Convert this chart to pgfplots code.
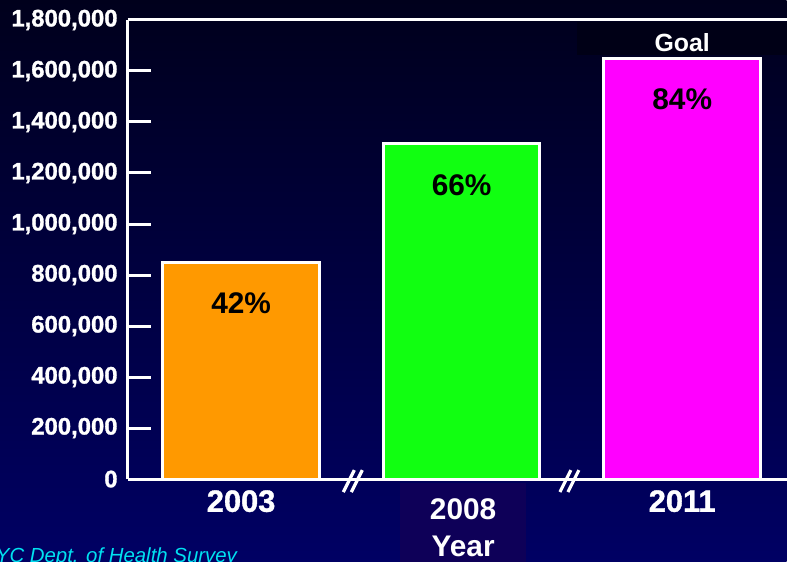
\documentclass[border=0pt]{standalone}
\usepackage{pgfplots}
\pgfplotsset{compat=1.18}
\usepackage{fontspec}
\setmainfont{Liberation Sans}
\newfontface\heavy{Liberation Sans Bold}[FakeBold=1.2]
\definecolor{bgtop}{RGB}{0,0,28}
\definecolor{bgbot}{RGB}{0,0,100}
\definecolor{barorange}{RGB}{255,153,0}
\definecolor{bargreen}{RGB}{17,255,17}
\definecolor{barmagenta}{RGB}{255,0,255}
\definecolor{labelbox}{RGB}{14,0,88}
\definecolor{goalbox}{RGB}{0,0,22}
\definecolor{source}{RGB}{0,225,240}
\begin{document}
\begin{tikzpicture}
% picture coordinates in px of the reference, origin at its lower left corner
\begin{scope}[x=1bp,y=1bp,shift={(-128,-83)}]
\shade[top color=bgtop, bottom color=bgbot] (0,0) rectangle (788,563);
\fill[labelbox] (401,0) rectangle (527,79);
\fill[goalbox] (578,508) rectangle (788,541);
\end{scope}
\begin{axis}[
  width=660bp, height=460bp, scale only axis,
  xmin=-0.514, xmax=2.473, ymin=0, ymax=1800000,
  axis x line*=bottom, axis y line*=left,
  axis line style={white, line width=3bp},
  ybar, bar width=0.71,
  ytick={0,200000,400000,600000,800000,1000000,1200000,1400000,1600000,1800000},
  yticklabels={0,{200,000},{400,000},{600,000},{800,000},{1,000,000},{1,200,000},{1,400,000},{1,600,000},{1,800,000}},
  scaled y ticks=false,
  tick align=inside,
  major tick length=23bp,
  ytick style={white, line width=3bp},
  yticklabel style={font=\fontsize{24}{24}\heavy, text=white, inner sep=0pt, xshift=-10bp},
  xtick={0,1,2}, xticklabels={2003,{},2011},
  xtick style={draw=none},
  xticklabel style={font=\fontsize{31}{31}\heavy, text=white, inner sep=0pt, yshift=-11bp},
  clip=false,
]
\addplot[fill=barorange, draw=white, line width=3bp, bar shift=0pt] coordinates {(0,850000)};
\addplot[fill=bargreen, draw=white, line width=3bp, bar shift=0pt] coordinates {(1,1315000)};
\addplot[fill=barmagenta, draw=white, line width=3bp, bar shift=0pt] coordinates {(2,1650000)};
\draw[white, line width=3bp] (rel axis cs:0,1) -- (rel axis cs:1,1);
\node[font=\fontsize{30}{30}\selectfont\bfseries, yshift=-41bp] at (axis cs:0,850000) {42\%};
\node[font=\fontsize{30}{30}\selectfont\bfseries, yshift=-42bp] at (axis cs:1,1315000) {66\%};
\node[font=\fontsize{30}{30}\selectfont\bfseries, yshift=-41bp] at (axis cs:2,1650000) {84\%};
\node[font=\fontsize{25}{25}\selectfont\bfseries, text=white, yshift=-23bp] at (axis cs:2,1800000) {Goal};
\end{axis}
\begin{scope}[x=1bp,y=1bp,shift={(-128,-83)}]
% axis breaks
\foreach \x in {354,571} {
  \draw[white, line width=3.2bp] (\x-10,70) -- (\x+1,92);
  \draw[white, line width=3.2bp] (\x-2,70) -- (\x+9,92);
}
\node[inner sep=0pt, font=\fontsize{30}{30}\selectfont\bfseries, text=white, anchor=base] at (464,43) {2008};
\node[overlay, inner sep=0pt, font=\fontsize{30}{30}\selectfont\bfseries, text=white, anchor=base] at (464,5) {Year};
\node[overlay, anchor=base west, inner sep=0pt, font=\fontsize{20.5}{20.5}\selectfont\itshape, text=source] at (-19,-1) {NYC Dept. of Health Survey};
\end{scope}
\end{tikzpicture}
\end{document}
